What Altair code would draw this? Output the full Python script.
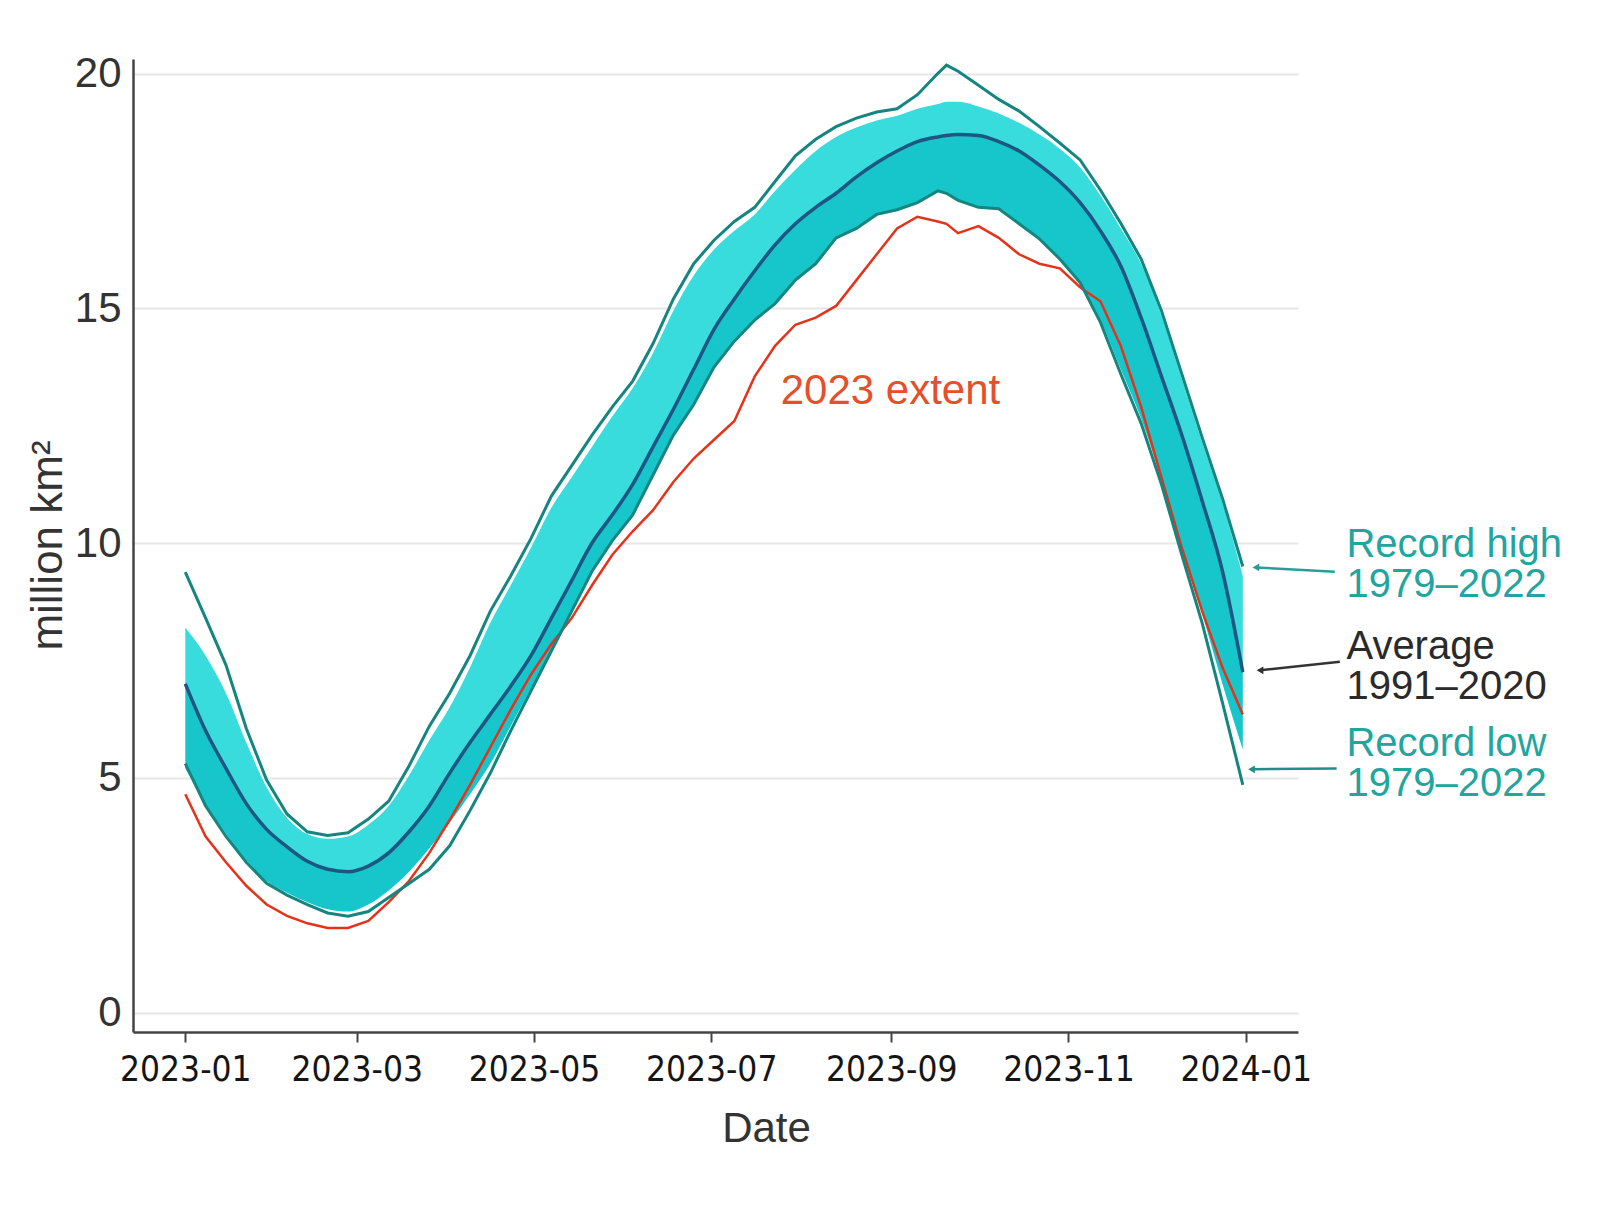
import altair as alt
import pandas as pd

# Day offsets from 2023-01-01
DAYS = [0, 7, 14, 21, 28, 35, 42, 49, 56, 63, 70, 77, 84, 91, 98, 105, 112, 119, 126, 133,
        140, 147, 154, 161, 168, 175, 182, 189, 196, 203, 210, 217, 224, 231, 238, 245, 252,
        259, 262, 266, 273, 280, 287, 294, 301, 308, 315, 322, 329, 336, 343, 350, 357, 364]

AVERAGE = [7.0, 6.0, 5.2, 4.45, 3.9, 3.53, 3.22, 3.05, 3.0, 3.12, 3.4, 3.85, 4.4, 5.1, 5.75, 6.35,
           6.95, 7.6, 8.4, 9.2, 10.0, 10.6, 11.25, 12.05, 12.85, 13.7, 14.55, 15.2, 15.8, 16.35,
           16.8, 17.15, 17.45, 17.8, 18.1, 18.35, 18.55, 18.65, 18.68, 18.7, 18.68, 18.55, 18.35,
           18.05, 17.7, 17.25, 16.65, 15.9, 14.8, 13.55, 12.3, 10.9, 9.4, 7.25]

RECORD_HIGH = [9.38, 8.4, 7.4, 6.05, 4.95, 4.23, 3.85, 3.77, 3.83, 4.12, 4.5, 5.25, 6.1, 6.8, 7.6,
               8.55, 9.3, 10.1, 11.0, 11.65, 12.3, 12.9, 13.45, 14.25, 15.2, 15.95, 16.45, 16.85,
               17.15, 17.7, 18.25, 18.6, 18.87, 19.05, 19.18, 19.25, 19.55, 20.0, 20.18, 20.05,
               19.75, 19.45, 19.2, 18.87, 18.52, 18.16, 17.52, 16.81, 16.05, 14.95, 13.6, 12.25,
               10.95, 9.5]

RECORD_LOW = [5.3, 4.4, 3.75, 3.2, 2.75, 2.5, 2.3, 2.12, 2.05, 2.15, 2.45, 2.75, 3.05, 3.55, 4.3,
              5.1, 6.0, 6.85, 7.7, 8.55, 9.4, 10.05, 10.6, 11.45, 12.3, 12.95, 13.75, 14.3, 14.75,
              15.1, 15.6, 15.95, 16.5, 16.7, 17.0, 17.1, 17.25, 17.5, 17.45, 17.3, 17.15, 17.12,
              16.8, 16.48, 16.05, 15.55, 14.7, 13.6, 12.55, 11.25, 9.75, 8.3, 6.6, 4.85]

EXTENT_2023 = [4.65, 3.75, 3.2, 2.7, 2.3, 2.06, 1.9, 1.8, 1.8, 1.95, 2.35, 2.8, 3.4, 4.1, 4.85,
               5.65, 6.45, 7.2, 7.85, 8.4, 9.1, 9.75, 10.25, 10.7, 11.3, 11.8, 12.2, 12.6, 13.55,
               14.2, 14.65, 14.8, 15.05, 15.6, 16.15, 16.7, 16.95, 16.85, 16.8, 16.6, 16.75, 16.5,
               16.15, 15.95, 15.85, 15.45, 15.15, 14.2, 12.9, 11.4, 9.9, 8.55, 7.35, 6.35]

BAND_HIGH = [8.2, 7.6, 6.8, 5.75, 4.8, 4.15, 3.8, 3.7, 3.75, 4.0, 4.4, 5.05, 5.8, 6.5, 7.35, 8.3,
             9.1, 9.9, 10.75, 11.4, 12.05, 12.7, 13.3, 14.05, 14.95, 15.7, 16.25, 16.65, 17.0,
             17.5, 17.95, 18.35, 18.65, 18.85, 19.0, 19.1, 19.25, 19.35, 19.4, 19.4, 19.3, 19.15,
             18.95, 18.7, 18.4, 18.0, 17.4, 16.7, 15.95, 14.85, 13.5, 12.15, 10.85, 9.3]

BAND_LOW = [5.2, 4.45, 3.8, 3.25, 2.8, 2.55, 2.35, 2.2, 2.15, 2.3, 2.6, 3.0, 3.5, 4.05, 4.65, 5.3,
            6.1, 6.9, 7.7, 8.55, 9.4, 10.05, 10.6, 11.45, 12.3, 12.95, 13.75, 14.3, 14.75, 15.1,
            15.6, 15.95, 16.5, 16.7, 17.0, 17.1, 17.25, 17.5, 17.45, 17.3, 17.15, 17.12, 16.8,
            16.48, 16.05, 15.55, 14.75, 13.7, 12.65, 11.35, 9.9, 8.5, 7.0, 5.6]

LABEL_DATES = ["2024-02-04T16:00:00"] * 3
LABEL_VALUES = [9.95, 7.79, 5.73]
LABEL_TEXTS = ["Record high\n1979–2022", "Average\n1991–2020", "Record low\n1979–2022"]
LABEL_COLORS = ["#22a59f", "#2a2a2a", "#22a59f"]

POINTER_FROM = ["2024-01-31T16:00:00", "2024-02-02T10:00:00", "2024-02-01T07:00:00"]
POINTER_TO = ["2024-01-04T12:00:00", "2024-01-05T22:00:00", "2024-01-03T00:00:00"]
POINTER_V1 = [9.39, 7.47, 5.2]
POINTER_V2 = [9.48, 7.29, 5.18]
POINTER_COLORS = ["#2a9d98", "#333333", "#1e8f8a"]

FONT = "Liberation Sans, Arial, sans-serif"
NARROW = "DejaVu Sans Condensed, Liberation Sans Narrow, Liberation Sans, sans-serif"

start = pd.Timestamp("2023-01-01")
dates = [(start + pd.Timedelta(days=d)).strftime("%Y-%m-%dT00:00:00") for d in DAYS]
df = pd.DataFrame({
    "date": dates,
    "avg": AVERAGE,
    "high": RECORD_HIGH,
    "low": RECORD_LOW,
    "y2023": EXTENT_2023,
    "bhi": BAND_HIGH,
    "blo": BAND_LOW,
})

labels = pd.DataFrame({"date": LABEL_DATES, "v": LABEL_VALUES, "t": LABEL_TEXTS, "c": LABEL_COLORS})
pointers = pd.DataFrame({"d1": POINTER_FROM, "d2": POINTER_TO, "v1": POINTER_V1,
                         "v2": POINTER_V2, "c": POINTER_COLORS})
extent_label = pd.DataFrame({"date": ["2023-08-31T17:00:00"], "v": [13.24], "t": ["2023 extent"]})

xscale = alt.Scale(domain=[alt.DateTime(year=2022, month=12, date=14),
                           alt.DateTime(year=2024, month=1, date=19)], nice=False)
yscale = alt.Scale(domain=[-0.415, 20.31], nice=False, zero=False)

xaxis = alt.Axis(
    values=[alt.DateTime(year=2023, month=m, date=1) for m in (1, 3, 5, 7, 9, 11)]
    + [alt.DateTime(year=2024, month=1, date=1)],
    format="%Y-%m", grid=False, domainColor="#444444", domainWidth=2.5,
    ticks=True, tickSize=10, tickWidth=2, tickColor="#444444",
    labelFont=NARROW, labelFontSize=35, labelColor="#151515", labelPadding=10,
    title="Date", titleFont=FONT, titleFontSize=42, titleFontWeight="normal",
    titleColor="#333333", titleX=633, titleY=96, titleAlign="center", titleBaseline="middle",
)
yaxis = alt.Axis(
    values=[0, 5, 10, 15, 20], grid=True, gridColor="#e6e6e6", gridWidth=2,
    domainColor="#444444", domainWidth=2.5, ticks=False,
    labelFont=FONT, labelFontSize=42, labelColor="#333333", labelPadding=12,
    title="million km²", titleFont=FONT, titleFontSize=44, titleFontWeight="normal",
    titleColor="#333333", titleX=-85, titleY=486, titleAngle=270,
    titleAlign="center", titleBaseline="middle",
)

X = alt.X("date:T", scale=xscale, axis=xaxis)


def Y(field):
    return alt.Y(field, type="quantitative", scale=yscale, axis=yaxis)


base = alt.Chart(df)

band_lo = base.mark_area(color="#16c6ca", interpolate="monotone").encode(
    x=X, y=Y("blo"), y2="avg")
band_hi = base.mark_area(color="#38dcdc", interpolate="monotone").encode(
    x=X, y=Y("avg"), y2="bhi")
red = base.mark_line(color="#e5331b", strokeWidth=2.5).encode(x=X, y=Y("y2023"))
high = base.mark_line(color="#15857f", strokeWidth=3).encode(x=X, y=Y("high"))
low = base.mark_line(color="#15857f", strokeWidth=3).encode(x=X, y=Y("low"))
avg = base.mark_line(color="#1d5682", strokeWidth=3.5, interpolate="monotone").encode(
    x=X, y=Y("avg"))

label_layer = alt.Chart(labels).mark_text(
    align="left", baseline="middle", font=FONT, fontSize=40, lineBreak="\n", lineHeight=40
).encode(x=alt.X("date:T"), y=alt.Y("v:Q"), text="t:N", color=alt.Color("c:N", scale=None))

pointer_layer = alt.Chart(pointers).mark_rule(strokeWidth=2.5).encode(
    x=alt.X("d1:T"), x2="d2:T", y=alt.Y("v1:Q"), y2="v2:Q",
    color=alt.Color("c:N", scale=None))
arrow_layer = alt.Chart(pointers).mark_point(
    shape="triangle-left", filled=True, size=60, opacity=1
).encode(x=alt.X("d2:T"), y=alt.Y("v2:Q"), color=alt.Color("c:N", scale=None))

extent_layer = alt.Chart(extent_label).mark_text(
    align="center", baseline="middle", font=FONT, fontSize=42, color="#e4502a"
).encode(x=alt.X("date:T"), y=alt.Y("v:Q"), text="t:N")

chart = alt.layer(
    band_lo, band_hi, red, high, low, avg,
    pointer_layer, arrow_layer, label_layer, extent_layer,
).properties(
    width=1165, height=973,
    autosize=alt.AutoSizeParams(type="none"),
    padding={"left": 125, "top": 51, "right": 290, "bottom": 160},
).configure_view(stroke=None)

chart.save("out.html", embed_options={"renderer": "svg", "actions": False})
